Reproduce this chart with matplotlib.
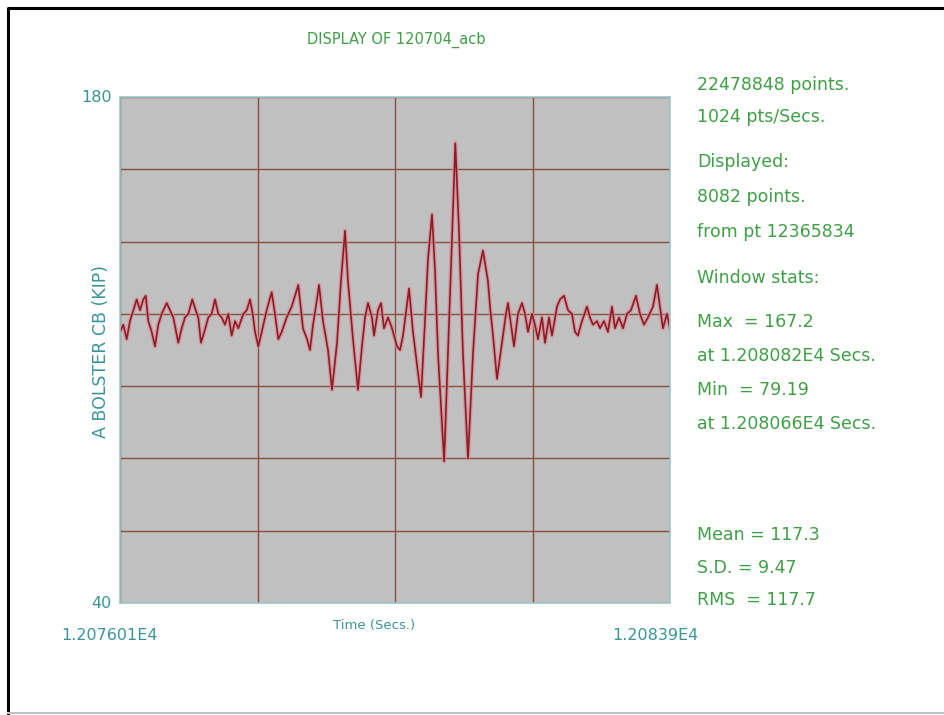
import matplotlib
matplotlib.use("Agg")
import matplotlib.pyplot as plt
from matplotlib.lines import Line2D
import numpy as np

# trace (time in seconds, load in kip)
time_s = [
    12076.010, 12076.057, 12076.106, 12076.153, 12076.201, 12076.250, 12076.297,
    12076.344, 12076.379, 12076.416, 12076.465, 12076.512, 12076.559, 12076.608,
    12076.680, 12076.727, 12076.775, 12076.846, 12076.895, 12076.942, 12076.990,
    12077.047, 12077.096, 12077.133, 12077.172, 12077.219, 12077.277, 12077.325,
    12077.373, 12077.420, 12077.469, 12077.516, 12077.564, 12077.612, 12077.660,
    12077.707, 12077.779, 12077.828, 12077.875, 12077.914, 12077.947, 12077.994,
    12078.043, 12078.114, 12078.186, 12078.233, 12078.281, 12078.330, 12078.401,
    12078.473, 12078.568, 12078.635, 12078.693, 12078.736, 12078.779, 12078.836,
    12078.865, 12078.922, 12078.994, 12079.051, 12079.123, 12079.180, 12079.238,
    12079.281, 12079.352, 12079.424, 12079.481, 12079.525, 12079.568, 12079.625,
    12079.654, 12079.711, 12079.754, 12079.797, 12079.855, 12079.912, 12079.984,
    12080.027, 12080.070, 12080.156, 12080.213, 12080.270, 12080.328, 12080.385,
    12080.428, 12080.486, 12080.529, 12080.572, 12080.660, 12080.715, 12080.773,
    12080.820, 12080.873, 12080.930, 12081.002, 12081.074, 12081.146, 12081.217,
    12081.289, 12081.318, 12081.361, 12081.418, 12081.490, 12081.547, 12081.576,
    12081.633, 12081.662, 12081.719, 12081.777, 12081.820, 12081.863, 12081.920,
    12081.963, 12082.006, 12082.064, 12082.107, 12082.164, 12082.207, 12082.279,
    12082.322, 12082.379, 12082.437, 12082.494, 12082.537, 12082.580, 12082.637,
    12082.709, 12082.752, 12082.795, 12082.853, 12082.896, 12082.953, 12083.010,
    12083.068, 12083.111, 12083.168, 12083.226, 12083.283, 12083.340, 12083.412,
    12083.469, 12083.527, 12083.584, 12083.656, 12083.713, 12083.756, 12083.799,
    12083.857, 12083.900,
]
load_kip = [
    115, 117, 113, 118, 121, 124, 121,
    124, 125, 118, 115, 111, 117, 120,
    123, 121, 119, 112, 116, 119, 120,
    124, 121, 119, 112, 115, 119, 120,
    124, 120, 119, 117, 120, 114, 118,
    116, 120, 121, 124, 120, 115, 111,
    115, 121, 126, 120, 113, 115, 119,
    122, 128, 116, 113, 110, 117, 124,
    128, 118, 110, 99, 112, 129, 143,
    129, 113, 99, 111, 119, 123, 119,
    114, 121, 123, 116, 119, 116, 111,
    110, 114, 127, 115, 106, 97, 118,
    135, 147.5, 132, 109, 79.19, 109, 141,
    167.2, 143, 109, 80, 109, 131, 137.5,
    129, 122, 114, 102, 112, 120, 123,
    115, 111, 120, 123, 120, 115, 120,
    117, 113, 119, 112, 119, 114, 122,
    124, 125, 121, 120, 115, 114, 118,
    122, 119, 117, 118, 116, 118, 115,
    122, 116, 119, 116, 120, 121, 125,
    120, 117, 119, 122, 128, 122, 116,
    120, 116,
]

t_start, t_end = 12076.01, 12083.90
y_min, y_max = 40, 180

title = "DISPLAY OF 120704_acb"
y_label = "A BOLSTER CB (KIP)"
x_label = "Time (Secs.)"
x_end_labels = ["1.207601E4", "1.20839E4"]
info_lines = [
    ("22478848 points.", 85),
    ("1024 pts/Secs.", 117),
    ("Displayed:", 162),
    ("8082 points.", 197),
    ("from pt 12365834", 232),
    ("Window stats:", 278),
    ("Max  = 167.2", 322),
    ("at 1.208082E4 Secs.", 356),
    ("Min  = 79.19", 390),
    ("at 1.208066E4 Secs.", 424),
    ("Mean = 117.3", 535),
    ("S.D. = 9.47", 568),
    ("RMS  = 117.7", 600),
]

GREEN = "#3f9f45"
TEAL = "#3a9598"
W, H = 945, 715


def fx(px):
    return px / W


def fy(py):
    return 1 - py / H


fig = plt.figure(figsize=(9.45, 7.15), dpi=100)
fig.patch.set_facecolor("white")

# screen frame: dark left/top edge, faint bottom edge
fig.lines.append(Line2D([fx(8), fx(8), fx(945)], [fy(713), fy(8), fy(8)],
                        transform=fig.transFigure, color="black", linewidth=2.2))
fig.lines.append(Line2D([fx(8), fx(945)], [fy(713), fy(713)],
                        transform=fig.transFigure, color="#b8c4c8", linewidth=1.5))

ax = fig.add_axes([fx(120), fy(603), fx(670) - fx(120), fy(97) - fy(603)])
ax.set_facecolor("#c0c0c0")
ax.plot(time_s, load_kip, color="#d88a90", linewidth=3.0, alpha=0.75)
ax.plot(time_s, load_kip, color="#8e1c28", linewidth=1.2)

ax.set_xlim(t_start, t_end)
ax.set_ylim(y_min, y_max)
ax.set_xticks(np.linspace(t_start, t_end, 5))
ax.set_xticklabels([])
ax.set_yticks(np.arange(y_min, y_max + 1, 20))
ax.set_yticklabels(["40", "", "", "", "", "", "", "180"])
ax.tick_params(length=0, colors=TEAL, labelsize=11.5, pad=6)
for lbl in ax.get_yticklabels():
    lbl.set_va("center")
ax.grid(True, color="#8a4e3c", linewidth=1.0)
for sp in ax.spines.values():
    sp.set_color("#9cc7cc")
    sp.set_linewidth(1.2)

fig.text(fx(396), fy(40), title, color=GREEN, fontsize=10.5,
         ha="center", va="center")
fig.text(fx(101), fy(352), y_label, color=TEAL, fontsize=12.5,
         rotation=90, ha="center", va="center")
fig.text(fx(374), fy(625), x_label, color=TEAL, fontsize=9.5,
         ha="center", va="center")
fig.text(fx(110), fy(636), x_end_labels[0], color=TEAL, fontsize=11.5,
         ha="center", va="center")
fig.text(fx(655), fy(636), x_end_labels[1], color=TEAL, fontsize=11.5,
         ha="center", va="center")

for txt, py in info_lines:
    fig.text(fx(697), fy(py), txt, color=GREEN, fontsize=12.5,
             ha="left", va="center")

fig.savefig("out.png", dpi=100)
